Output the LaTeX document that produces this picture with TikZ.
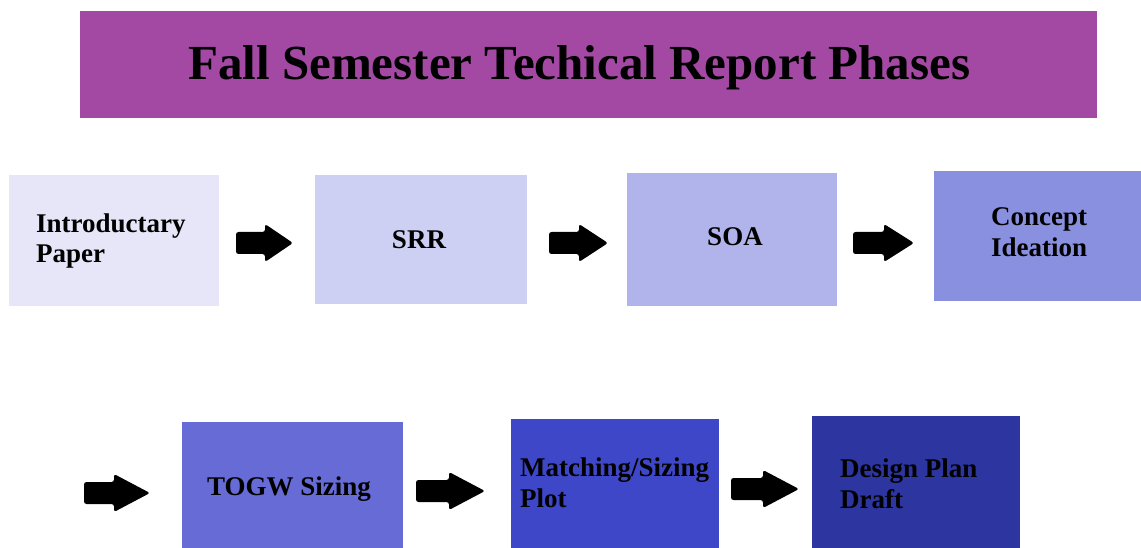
\documentclass[tikz,border=0pt]{standalone}
\usepackage{fontspec}
\setmainfont{Liberation Serif}
\usetikzlibrary{calc}

\definecolor{titlepurple}{RGB}{163,73,164}
\definecolor{ph1}{RGB}{230,230,248}
\definecolor{ph2}{RGB}{205,208,242}
\definecolor{ph3}{RGB}{176,180,234}
\definecolor{ph4}{RGB}{138,144,224}
\definecolor{ph5}{RGB}{102,107,214}
\definecolor{ph6}{RGB}{63,71,201}
\definecolor{ph7}{RGB}{45,53,160}

\tikzset{
  phasebox/.style={draw=none, inner sep=0pt, anchor=north west},
  phasetext/.style={inner sep=0pt, align=left, text=black,
    font=\fontsize{27}{31}\selectfont\bfseries},
  titletext/.style={inner sep=0pt, text=black,
    font=\fontsize{49}{55}\selectfont\bfseries},
  arrowfill/.style={fill=black, rounded corners=2.5pt},
}

% block arrow from coordinate #1 to coordinate #2, head length #3
\newcommand\blockarrow[3]{%
  \fill[arrowfill] let \p1=(#1), \p2=(#2) in
    (\x1,\y1+11pt) -- (\x2-#3,\y1+11pt) -- (\x2-#3,\y1+19pt)
    -- (\x2,\y1) -- (\x2-#3,\y1-19pt) -- (\x2-#3,\y1-11pt)
    -- (\x1,\y1-11pt) -- cycle;}

\begin{document}
\begin{tikzpicture}[x=1pt,y=-1pt]
\useasboundingbox (0,0) rectangle (1141,548);

% title banner
\node[phasebox, fill=titlepurple, minimum width=1017pt, minimum height=107pt] (title) at (80,11) {};
\node[titletext, anchor=base west] (titlelbl) at (188,80) {Fall Semester Techical Report Phases};

% first row of phases
\node[phasebox, fill=ph1, minimum width=210pt, minimum height=131pt] (intro) at (9,175) {};
\node[phasebox, fill=ph2, minimum width=212pt, minimum height=129pt] (srr) at (315,175) {};
\node[phasebox, fill=ph3, minimum width=210pt, minimum height=133pt] (soa) at (627,173) {};
\node[phasebox, fill=ph4, minimum width=207pt, minimum height=130pt] (concept) at (934,171) {};

% second row of phases
\node[phasebox, fill=ph5, minimum width=221pt, minimum height=126pt] (togw) at (182,422) {};
\node[phasebox, fill=ph6, minimum width=208pt, minimum height=129pt] (match) at (511,419) {};
\node[phasebox, fill=ph7, minimum width=208pt, minimum height=132pt] (design) at (812,416) {};

% phase labels (base = baseline of the last line)
\node[phasetext, anchor=base west] (introlbl) at (36,263) {Introductary\\Paper};
\node[phasetext, anchor=base] (srrlbl) at (419,249) {SRR};
\node[phasetext, anchor=base] (soalbl) at (735,246) {SOA};
\node[phasetext, anchor=base west] (conceptlbl) at (991,257) {Concept\\Ideation};
\node[phasetext, anchor=base] (togwlbl) at (289,495) {TOGW Sizing};
\node[phasetext, anchor=base west] (matchlbl) at (520,507) {Matching/Sizing\\Plot};
\node[phasetext, anchor=base west] (designlbl) at (840,508) {Design Plan\\Draft};

% arrow end points
\coordinate (a1s) at (236,243); \coordinate (a1e) at (293,243);
\coordinate (a2s) at (549,243); \coordinate (a2e) at (608,243);
\coordinate (a3s) at (853,243); \coordinate (a3e) at (914,243);
\coordinate (a4s) at (84,493);  \coordinate (a4e) at (150,493);
\coordinate (a5s) at (416,491); \coordinate (a5e) at (485,491);
\coordinate (a6s) at (731,489); \coordinate (a6e) at (799,489);

\blockarrow{a1s}{a1e}{28pt}
\blockarrow{a2s}{a2e}{29pt}
\blockarrow{a3s}{a3e}{30pt}
\blockarrow{a4s}{a4e}{36pt}
\blockarrow{a5s}{a5e}{36pt}
\blockarrow{a6s}{a6e}{36pt}
\end{tikzpicture}
\end{document}
